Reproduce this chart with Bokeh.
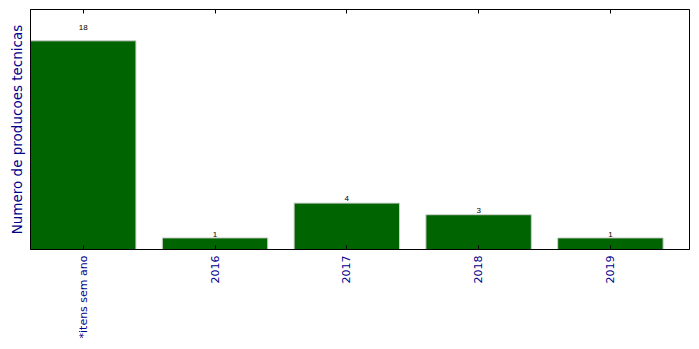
import math
from bokeh.plotting import figure
from bokeh.models import Range1d, FixedTicker, LinearAxis, ColumnDataSource
from bokeh.embed import file_html
from bokeh.resources import INLINE

categories = ["*itens sem ano", "2016", "2017", "2018", "2019"]
counts = [18, 1, 4, 3, 1]

xs = list(range(len(categories)))
label_y = [c * 1.05 for c in counts]
src = ColumnDataSource(dict(x=xs, top=counts, ly=label_y, txt=[str(c) for c in counts]))

p = figure(width=699, height=349, output_backend="svg", toolbar_location=None,
           x_range=Range1d(-0.4, 4.6), y_range=Range1d(0, max(counts) * 1.15),
           min_border_left=30, min_border_right=10, min_border_top=9, min_border_bottom=100,
           x_axis_location="below")
p.grid.visible = False
p.outline_line_color = "black"
p.outline_line_width = 1
p.background_fill_color = "white"
p.border_fill_color = "white"

p.vbar(x="x", top="top", width=0.8, source=src, fill_color="#006400", line_color="#d0d0d0", line_width=1)
p.text(x="x", y="ly", text="txt", source=src, text_align="center", text_baseline="bottom",
       text_font_size="8px", text_color="black")

ticker = FixedTicker(ticks=xs)
xa = p.xaxis[0]
xa.ticker = ticker
xa.major_label_overrides = {i: c for i, c in zip(xs, categories)}
xa.major_label_orientation = math.pi / 2
xa.major_label_text_color = "#00008B"
xa.major_label_text_font = "DejaVu Sans"
xa.major_label_text_font_size = "11px"
xa.major_tick_in = 4
xa.major_tick_out = 0
xa.minor_tick_line_color = None
xa.major_label_standoff = 6
xa.axis_line_color = "black"

top = LinearAxis(ticker=ticker, major_label_overrides={i: "" for i in xs},
                 major_label_standoff=0, major_tick_in=4, major_tick_out=0,
                 minor_tick_line_color=None, axis_line_color="black")
p.add_layout(top, "above")

ya = p.yaxis[0]
ya.ticker = FixedTicker(ticks=[])
ya.minor_tick_line_color = None
ya.major_tick_line_color = None
ya.major_label_standoff = 0
ya.axis_label = "Numero de producoes tecnicas"
ya.axis_label_text_color = "#00008B"
ya.axis_label_text_font = "DejaVu Sans"
ya.axis_label_text_font_size = "13.5px"
ya.axis_label_text_font_style = "normal"
ya.axis_label_standoff = 6
ya.axis_line_color = "black"

open("out.html", "w").write(file_html(p, INLINE))
